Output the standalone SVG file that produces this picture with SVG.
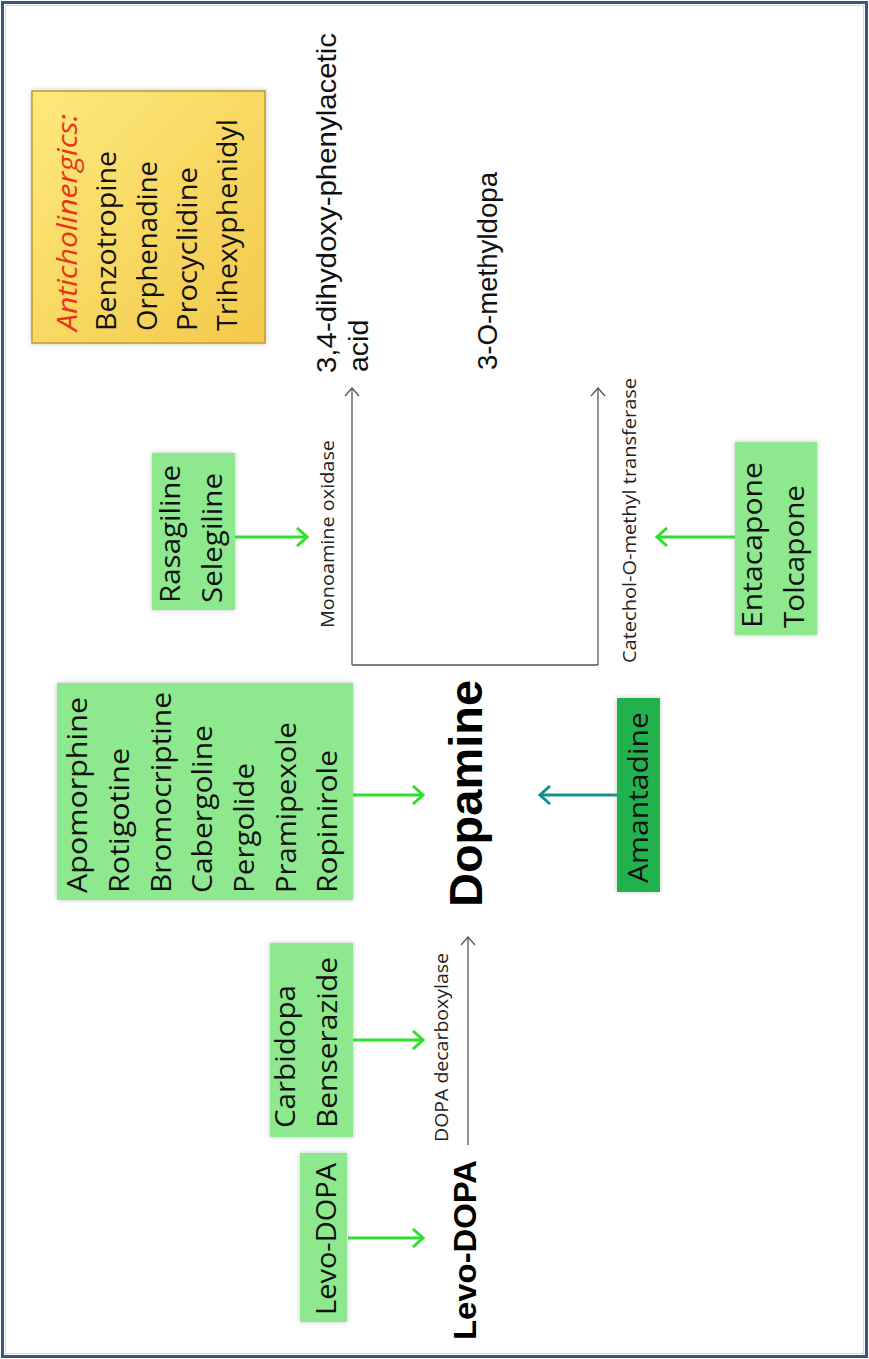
<svg xmlns="http://www.w3.org/2000/svg" width="869" height="1359" viewBox="0 0 869 1359">
<defs>
<style>
.lbl{font-family:"Open Sans","DejaVu Sans",sans-serif;font-size:26.5px;fill:#111}
.ar{font-family:"Liberation Sans",Arial,sans-serif;font-size:28.5px;fill:#111}
.bold{font-family:"Liberation Sans",Arial,sans-serif;font-weight:bold;fill:#000}
.enz{font-family:"Open Sans","DejaVu Sans",sans-serif;font-size:18px;fill:#222}
.gbox{fill:#8ee88e;filter:url(#sh)}
.g{stroke:#2ee02e;stroke-width:3;fill:none;marker-end:url(#ag)}
.t{stroke:#178f8f;stroke-width:3;fill:none;marker-end:url(#at)}
.k{stroke:#555;stroke-width:1.3;fill:none}
.ka{stroke:#555;stroke-width:1.3;fill:none;marker-end:url(#ak)}
</style>
<filter id="sh" x="-15%" y="-15%" width="130%" height="130%">
<feDropShadow dx="0" dy="0" stdDeviation="2.5" flood-color="#8a9a8a" flood-opacity="0.55"/>
</filter>
<linearGradient id="yg" x1="0" y1="0" x2="1" y2="1">
<stop offset="0" stop-color="#fde97c"/>
<stop offset="1" stop-color="#f3c94a"/>
</linearGradient>
<marker id="ag" markerWidth="16" markerHeight="20" refX="13" refY="10" orient="auto" markerUnits="userSpaceOnUse">
<path d="M3,1 L13,10 L3,19" fill="none" stroke="#2ee02e" stroke-width="3"/>
</marker>
<marker id="at" markerWidth="16" markerHeight="20" refX="13" refY="10" orient="auto" markerUnits="userSpaceOnUse">
<path d="M3,1 L13,10 L3,19" fill="none" stroke="#178f8f" stroke-width="3"/>
</marker>
<marker id="ak" markerWidth="12" markerHeight="16" refX="9" refY="8" orient="auto" markerUnits="userSpaceOnUse">
<path d="M1,1 L9,8 L1,15" fill="none" stroke="#555" stroke-width="1.3"/>
</marker>
</defs>

<rect x="0" y="0" width="869" height="1359" fill="#ffffff"/>
<rect x="2.5" y="2.5" width="864" height="1354" fill="none" stroke="#3a5585" stroke-width="3"/>
<rect x="5.5" y="5.5" width="858" height="1348" fill="none" stroke="#c9d5e8" stroke-width="1"/>

<g id="connectors">
<path class="k" d="M352,665 H598"/>
<path class="ka" d="M352,665 V388"/>
<path class="ka" d="M598,665 V388"/>
<path class="ka" d="M468,1145 V937"/>
<path class="g" d="M235,537 H307"/>
<path class="g" d="M353,795 H423"/>
<path class="g" d="M353,1040 H423"/>
<path class="g" d="M348,1238 H423"/>
<path class="g" d="M735,537 H657"/>
<path class="t" d="M617,795 H540"/>
<text class="enz" transform="translate(334 628) rotate(-90)" textLength="188" lengthAdjust="spacingAndGlyphs">Monoamine oxidase</text>
<text class="enz" transform="translate(636 663) rotate(-90)" textLength="285" lengthAdjust="spacingAndGlyphs">Catechol-O-methyl transferase</text>
<text class="enz" transform="translate(448 1142) rotate(-90)" textLength="189" lengthAdjust="spacingAndGlyphs">DOPA decarboxylase</text>
</g>

<g id="anticholinergics">
<rect x="32" y="91" width="233" height="252" fill="url(#yg)" stroke="#c49a2a" stroke-width="1.5" filter="url(#sh)"/>
<text class="lbl" transform="translate(77 331) rotate(-90)" style="fill:#e8341c;font-style:italic" textLength="217" lengthAdjust="spacingAndGlyphs">Anticholinergics:</text>
<text class="lbl" transform="translate(116 331) rotate(-90)" textLength="180" lengthAdjust="spacingAndGlyphs">Benzotropine</text>
<text class="lbl" transform="translate(157 331) rotate(-90)" textLength="170" lengthAdjust="spacingAndGlyphs">Orphenadine</text>
<text class="lbl" transform="translate(197 331) rotate(-90)" textLength="164" lengthAdjust="spacingAndGlyphs">Procyclidine</text>
<text class="lbl" transform="translate(237 331) rotate(-90)" textLength="212" lengthAdjust="spacingAndGlyphs">Trihexyphenidyl</text>
</g>

<g id="dopac">
<text class="ar" transform="translate(336 373) rotate(-90)" textLength="340" lengthAdjust="spacingAndGlyphs">3,4-dihydoxy-phenylacetic</text>
<text class="ar" transform="translate(368 372) rotate(-90)">acid</text>
</g>

<g id="omethyldopa">
<text class="ar" transform="translate(497 370) rotate(-90)" textLength="198" lengthAdjust="spacingAndGlyphs">3-O-methyldopa</text>
</g>

<g id="mao-inhibitors">
<rect class="gbox" x="152" y="453" width="83" height="157"/>
<text class="lbl" transform="translate(180 603) rotate(-90)" textLength="138" lengthAdjust="spacingAndGlyphs">Rasagiline</text>
<text class="lbl" transform="translate(222 603) rotate(-90)" textLength="130" lengthAdjust="spacingAndGlyphs">Selegiline</text>
</g>

<g id="comt-inhibitors">
<rect class="gbox" x="735" y="442" width="82" height="193"/>
<text class="lbl" transform="translate(762 628) rotate(-90)" textLength="166" lengthAdjust="spacingAndGlyphs">Entacapone</text>
<text class="lbl" transform="translate(804 628) rotate(-90)" textLength="143" lengthAdjust="spacingAndGlyphs">Tolcapone</text>
</g>

<g id="agonists">
<rect class="gbox" x="57" y="683" width="296" height="217"/>
<text class="lbl" transform="translate(87 893) rotate(-90)" textLength="196" lengthAdjust="spacingAndGlyphs">Apomorphine</text>
<text class="lbl" transform="translate(129 893) rotate(-90)" textLength="145" lengthAdjust="spacingAndGlyphs">Rotigotine</text>
<text class="lbl" transform="translate(171 893) rotate(-90)" textLength="201" lengthAdjust="spacingAndGlyphs">Bromocriptine</text>
<text class="lbl" transform="translate(212 893) rotate(-90)" textLength="168" lengthAdjust="spacingAndGlyphs">Cabergoline</text>
<text class="lbl" transform="translate(254 893) rotate(-90)" textLength="130" lengthAdjust="spacingAndGlyphs">Pergolide</text>
<text class="lbl" transform="translate(296 893) rotate(-90)" textLength="171" lengthAdjust="spacingAndGlyphs">Pramipexole</text>
<text class="lbl" transform="translate(337 893) rotate(-90)" textLength="143" lengthAdjust="spacingAndGlyphs">Ropinirole</text>
</g>

<g id="dopamine">
<text class="bold" transform="translate(482 907) rotate(-90)" style="font-size:47px" textLength="227" lengthAdjust="spacingAndGlyphs">Dopamine</text>
</g>

<g id="amantadine">
<rect x="617" y="698" width="43" height="194" fill="#20b24e" filter="url(#sh)"/>
<text class="lbl" transform="translate(648 883) rotate(-90)" textLength="171" lengthAdjust="spacingAndGlyphs">Amantadine</text>
</g>

<g id="decarboxylase-inhibitors">
<rect class="gbox" x="270" y="943" width="83" height="194"/>
<text class="lbl" transform="translate(295 1128) rotate(-90)" textLength="143" lengthAdjust="spacingAndGlyphs">Carbidopa</text>
<text class="lbl" transform="translate(337 1128) rotate(-90)" textLength="171" lengthAdjust="spacingAndGlyphs">Benserazide</text>
</g>

<g id="levodopa-drug">
<rect class="gbox" x="300" y="1153" width="47" height="169"/>
<text class="lbl" transform="translate(336 1315) rotate(-90)" textLength="152" lengthAdjust="spacingAndGlyphs">Levo-DOPA</text>
</g>

<g id="levodopa">
<text class="bold" transform="translate(476 1340) rotate(-90)" style="font-size:32px" textLength="180" lengthAdjust="spacingAndGlyphs">Levo-DOPA</text>
</g>
</svg>
